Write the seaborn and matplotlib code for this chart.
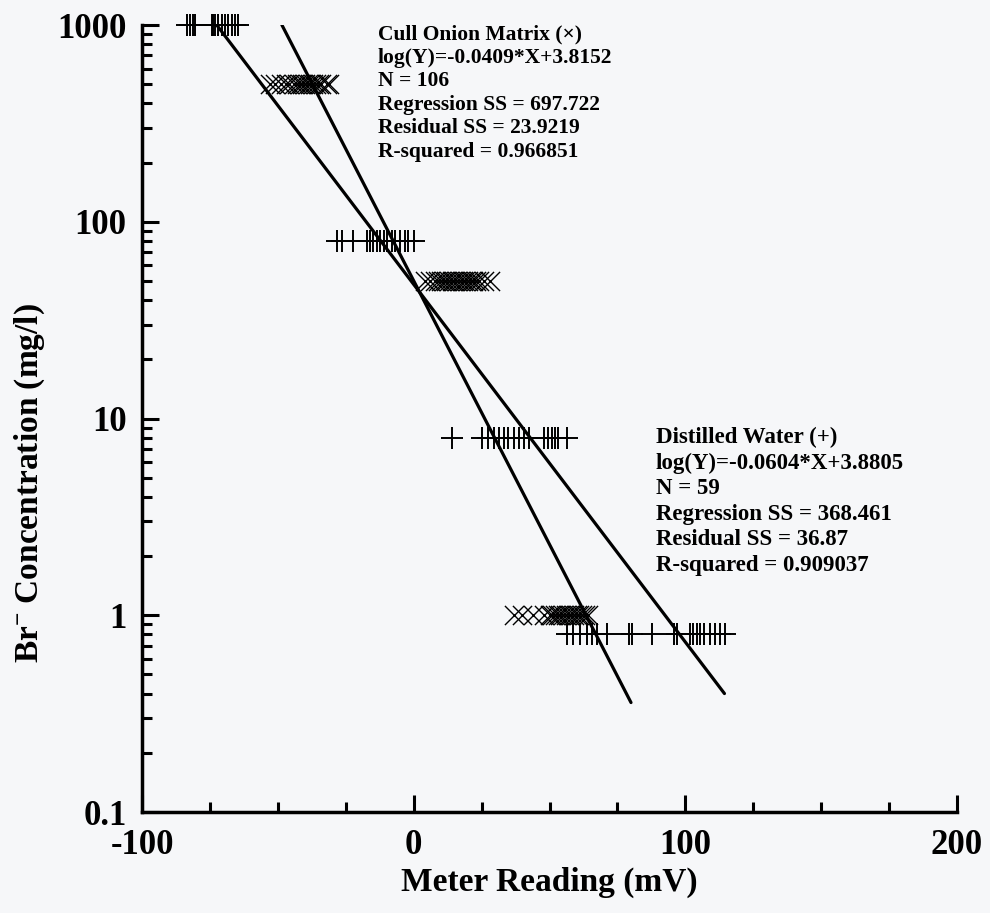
import numpy as np
import pandas as pd
import matplotlib
matplotlib.use("Agg")
import matplotlib.pyplot as plt
import seaborn as sns
from matplotlib.ticker import FixedLocator, NullFormatter, LogLocator

# ---------------- data ----------------
# Distilled water (+)
water_x_1000 = [-83.4, -82.3, -81.4, -80.5, -74.2, -73.8, -73.1, -72.0, -70.5, -69.4, -68.3, -66.9, -65.7, -64.6]
water_x_80 = [-28.3, -26.5, -22.2, -17.2, -16.0, -14.8, -13.6, -12.4, -11.1, -9.9, -8.1, -6.9, -5.0, -3.2, -2.0, 0.2]
water_x_8 = [14.1, 25.1, 27.5, 29.4, 31.3, 33.1, 34.9, 36.8, 38.6, 40.5, 42.3, 47.8, 49.6, 50.9, 52.1, 53.3, 56.4]
water_x_08 = [56.4, 58.8, 61.3, 63.8, 65.6, 67.4, 71.1, 79.1, 80.3, 87.7, 95.7, 96.9, 101.8, 103.0,
              104.3, 105.5, 106.7, 109.2, 111.0, 112.9, 114.7]
water_levels = [1000, 80, 8, 0.8]

# Cull onion matrix (x)
onion_x_500 = [-53, -51, -49, -47, -46, -44, -43, -42, -41, -40, -39, -38, -37, -36, -35, -34, -32, -31]
onion_x_50 = [4, 6, 8, 9, 10, 11, 12, 13, 14, 15, 16, 17, 18, 19, 20, 21, 22, 23, 24, 26, 28]
onion_x_1 = [37, 40, 44, 48, 50, 51, 52, 53, 54, 55, 56, 57, 58, 59, 60, 61, 62, 63, 64]
onion_levels = [500, 50, 1]

# fitted lines (end points)
line_shallow_x = [-72.5, 114.4]
line_shallow_y = [1000, 0.40]
line_steep_x = [-48.5, 80.0]
line_steep_y = [1000, 0.36]

xticks = [-100, 0, 100, 200]
yticks = [0.1, 1, 10, 100, 1000]
ytick_labels = ["0.1", "1", "10", "100", "1000"]

onion_text = ["Cull Onion Matrix (\u00d7)", "log(Y)=-0.0409*X+3.8152", "N = 106",
              "Regression SS = 697.722", "Residual SS = 23.9219", "R-squared = 0.966851"]
water_text = ["Distilled Water (+)", "log(Y)=-0.0604*X+3.8805", "N = 59",
              "Regression SS = 368.461", "Residual SS = 36.87", "R-squared = 0.909037"]

# ---------------- tables ----------------
water_df = pd.DataFrame({
    "x": water_x_1000 + water_x_80 + water_x_8 + water_x_08,
    "y": [water_levels[0]] * len(water_x_1000) + [water_levels[1]] * len(water_x_80)
         + [water_levels[2]] * len(water_x_8) + [water_levels[3]] * len(water_x_08),
})
onion_df = pd.DataFrame({
    "x": onion_x_500 + onion_x_50 + onion_x_1,
    "y": [onion_levels[0]] * len(onion_x_500) + [onion_levels[1]] * len(onion_x_50)
         + [onion_levels[2]] * len(onion_x_1),
})
shallow_df = pd.DataFrame({"x": line_shallow_x, "y": line_shallow_y})
steep_df = pd.DataFrame({"x": line_steep_x, "y": line_steep_y})

# ---------------- style ----------------
sns.set_theme(style="ticks")
plt.rcParams["font.family"] = ["Liberation Serif", "DejaVu Serif"]
plt.rcParams["font.weight"] = "bold"
plt.rcParams["mathtext.fontset"] = "custom"
plt.rcParams["mathtext.rm"] = "Liberation Serif:bold"
plt.rcParams["mathtext.bf"] = "Liberation Serif:bold"
plt.rcParams["mathtext.it"] = "Liberation Serif:bold"
plt.rcParams["axes.labelcolor"] = "black"
plt.rcParams["text.color"] = "black"

W, H = 990, 913
bg = "#f6f7f9"
fig = plt.figure(figsize=(W / 100, H / 100), dpi=100, facecolor=bg)
ax = fig.add_axes([142 / W, 1 - 812 / H, (957 - 142) / W, (812 - 25) / H])
ax.set_facecolor(bg)

sns.scatterplot(data=water_df, x="x", y="y", marker="+", s=230, color="black",
                linewidth=1.4, ax=ax, legend=False, zorder=3, clip_on=False)
sns.scatterplot(data=onion_df, x="x", y="y", marker="x", s=190, color="black",
                linewidth=1.0, ax=ax, legend=False, zorder=3, clip_on=False)
sns.lineplot(data=shallow_df, x="x", y="y", color="black", linewidth=2.3, ax=ax,
             legend=False, estimator=None, sort=False)
sns.lineplot(data=steep_df, x="x", y="y", color="black", linewidth=2.3, ax=ax,
             legend=False, estimator=None, sort=False)

ax.set_yscale("log")
ax.set_xlim(-100, 200)
ax.set_ylim(0.1, 1000)

ax.xaxis.set_major_locator(FixedLocator(xticks))
ax.xaxis.set_minor_locator(FixedLocator([v for v in np.arange(-100, 201, 25) if v not in xticks]))
ax.set_xticklabels([str(v) for v in xticks])
ax.yaxis.set_major_locator(FixedLocator(yticks))
ax.set_yticklabels(ytick_labels)
ax.yaxis.set_minor_locator(LogLocator(base=10, subs=np.arange(2, 10)))
ax.yaxis.set_minor_formatter(NullFormatter())

for s in ["top", "right"]:
    ax.spines[s].set_visible(False)
for s in ["left", "bottom"]:
    ax.spines[s].set_linewidth(2.5)
    ax.spines[s].set_color("black")

ax.tick_params(axis="both", which="major", direction="in", length=12, width=2.2,
               labelsize=25, color="black", labelcolor="black")
ax.tick_params(axis="y", which="major", pad=11)
ax.tick_params(axis="x", which="major", pad=12)
ax.tick_params(axis="both", which="minor", direction="in", length=7, width=2.2, color="black")
for lab in ax.get_xticklabels() + ax.get_yticklabels():
    lab.set_fontweight("bold")

ax.set_xlabel("Meter Reading (mV)", fontsize=24, fontweight="bold", labelpad=4, color="black")
ax.set_ylabel(r"Br$^{-}$ Concentration (mg/l)", fontsize=24, fontweight="bold", color="black")
ax.yaxis.set_label_coords(-0.117, 0.418)
ax.grid(False)

# annotation blocks, one text per line
for i, line in enumerate(onion_text):
    fig.text(378 / W, 1 - (39 + 23.6 * i) / H, line, fontsize=15.5, fontweight="bold",
             ha="left", va="baseline", color="black")
for i, line in enumerate(water_text):
    fig.text(656 / W, 1 - (443 + 25.6 * i) / H, line, fontsize=16.5, fontweight="bold",
             ha="left", va="baseline", color="black")

fig.savefig("out.png", dpi=100, facecolor=bg)
